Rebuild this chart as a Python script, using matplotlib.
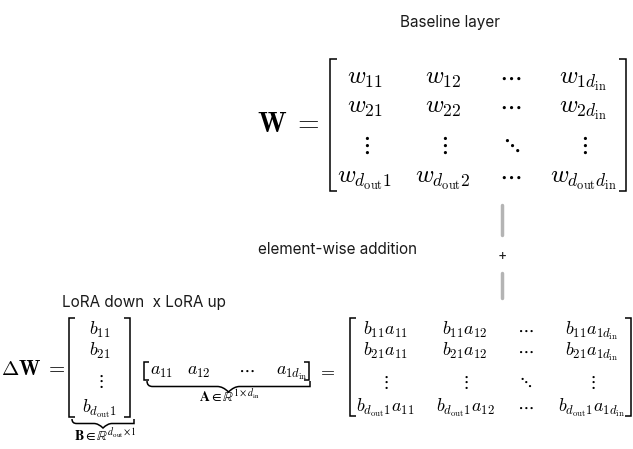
import numpy as np
import matplotlib.pyplot as plt
from matplotlib.path import Path
from matplotlib.patches import PathPatch

plt.rcParams['mathtext.fontset'] = 'cm'
plt.rcParams['font.family'] = ['Inter', 'DejaVu Sans']

# --- matrix entries ---
din = r'd_{\mathrm{in}}'
dout = r'd_{\mathrm{out}}'
w_rows = [
    [r'w_{11}', r'w_{12}', r'\cdots', r'w_{1' + din + '}'],
    [r'w_{21}', r'w_{22}', r'\cdots', r'w_{2' + din + '}'],
    [r'\vdots', r'\vdots', r'\ddots', r'\vdots'],
    [r'w_{' + dout + '1}', r'w_{' + dout + '2}', r'\cdots', r'w_{' + dout + din + '}'],
]
b_col = [r'b_{11}', r'b_{21}', r'\vdots', r'b_{' + dout + '1}']
a_row = [r'a_{11}', r'a_{12}', r'\cdots', r'a_{1' + din + '}']
ba_rows = [
    [r'b_{11}a_{11}', r'b_{11}a_{12}', r'\cdots', r'b_{11}a_{1' + din + '}'],
    [r'b_{21}a_{11}', r'b_{21}a_{12}', r'\cdots', r'b_{21}a_{1' + din + '}'],
    [r'\vdots', r'\vdots', r'\ddots', r'\vdots'],
    [r'b_{' + dout + '1}a_{11}', r'b_{' + dout + '1}a_{12}', r'\cdots',
     r'b_{' + dout + '1}a_{1' + din + '}'],
]
b_label = r'\mathbf{B}\in\mathbb{R}^{' + dout + r'\times 1}'
a_label = r'\mathbf{A}\in\mathbb{R}^{1\times ' + din + '}'

fig = plt.figure(figsize=(6.33, 4.49), dpi=100)
ax = fig.add_axes([0, 0, 1, 1])
ax.set_xlim(0, 633)
ax.set_ylim(449, 0)
ax.axis('off')


def bracket(x, y0, y1, side, serif=6, lw=1.1):
    d = serif if side == 'left' else -serif
    ax.plot([x + d, x, x, x + d], [y0, y0, y1, y1], color='black', lw=lw,
            solid_capstyle='butt', solid_joinstyle='miter')


def underbrace(x0, x1, y, h=8, lw=1.1):
    xm = (x0 + x1) / 2
    q = h / 2
    verts = [(x0, y), (x0, y + q), (x0 + q, y + q), (x0 + 2 * q, y + q),
             (xm - 2 * q, y + q), (xm - q, y + q), (xm, y + h),
             (xm + q, y + q), (xm + 2 * q, y + q),
             (x1 - 2 * q, y + q), (x1 - q, y + q), (x1, y + q), (x1, y)]
    codes = [Path.MOVETO, Path.CURVE3, Path.CURVE3, Path.LINETO,
             Path.LINETO, Path.CURVE3, Path.CURVE3, Path.CURVE3, Path.CURVE3,
             Path.LINETO, Path.CURVE3, Path.CURVE3, Path.LINETO]
    ax.add_patch(PathPatch(Path(verts, codes), fill=False, lw=lw, color='black'))


def math(x, y, s, size, ha='center', mfam='cm'):
    ax.text(x, y, '$' + s + '$', fontsize=size, ha=ha, va='baseline',
            math_fontfamily=mfam)


# --- labels ---
ax.text(450, 22, 'Baseline layer', fontsize=11, ha='center', va='center', color='#1a1a1a')
ax.text(337, 249, 'element-wise addition', fontsize=11, ha='center', va='center', color='#1a1a1a')
ax.text(144, 302, 'LoRA down  x LoRA up', fontsize=11, ha='center', va='center', color='#1a1a1a')

# --- W matrix ---
math(288, 132, r'\mathbf{W}\;=', 20)
w_x = [365, 443, 510, 583]
w_y = [84, 113, 152, 183]
for r, row in enumerate(w_rows):
    for c, s in enumerate(row):
        math(w_x[c], w_y[r], s, 18)
bracket(330, 59, 191, 'left', serif=7)
bracket(626, 59, 191, 'right', serif=7)

# --- addition connector ---
ax.plot([502, 502], [205, 235], color='#b4b4b4', lw=2.5, solid_capstyle='round')
ax.plot([502, 502], [273, 298], color='#b4b4b4', lw=2.5, solid_capstyle='round')
ax.text(502, 256, '+', fontsize=10, ha='center', va='center', color='#1a1a1a')

# --- Delta W ---
math(33, 375, r'\mathbf{\Delta W}\;=', 15)

# B column
b_y = [335, 356, 386, 413]
for r, s in enumerate(b_col):
    math(100, b_y[r], s, 13)
bracket(69, 318, 417, 'left')
bracket(130, 318, 417, 'right')
underbrace(72, 134, 419, h=9)
math(105, 442, b_label, 10, mfam='stix')

# A row
a_x = [162, 199, 246, 292]
for c, s in enumerate(a_row):
    math(a_x[c], 375, s, 13)
bracket(144, 362, 380, 'left', serif=5)
bracket(309, 362, 380, 'right', serif=5)
underbrace(147, 310, 381, h=11)
math(229, 403, a_label, 10, mfam='stix')

math(326, 375, '=', 13)

# product matrix
ba_x = [385, 465, 525, 592]
ba_y = [335, 356, 387, 412]
for r, row in enumerate(ba_rows):
    for c, s in enumerate(row):
        math(ba_x[c], ba_y[r], s, 13)
bracket(350, 318, 416, 'left')
bracket(631, 318, 416, 'right')

fig.savefig('out.png', dpi=100)
